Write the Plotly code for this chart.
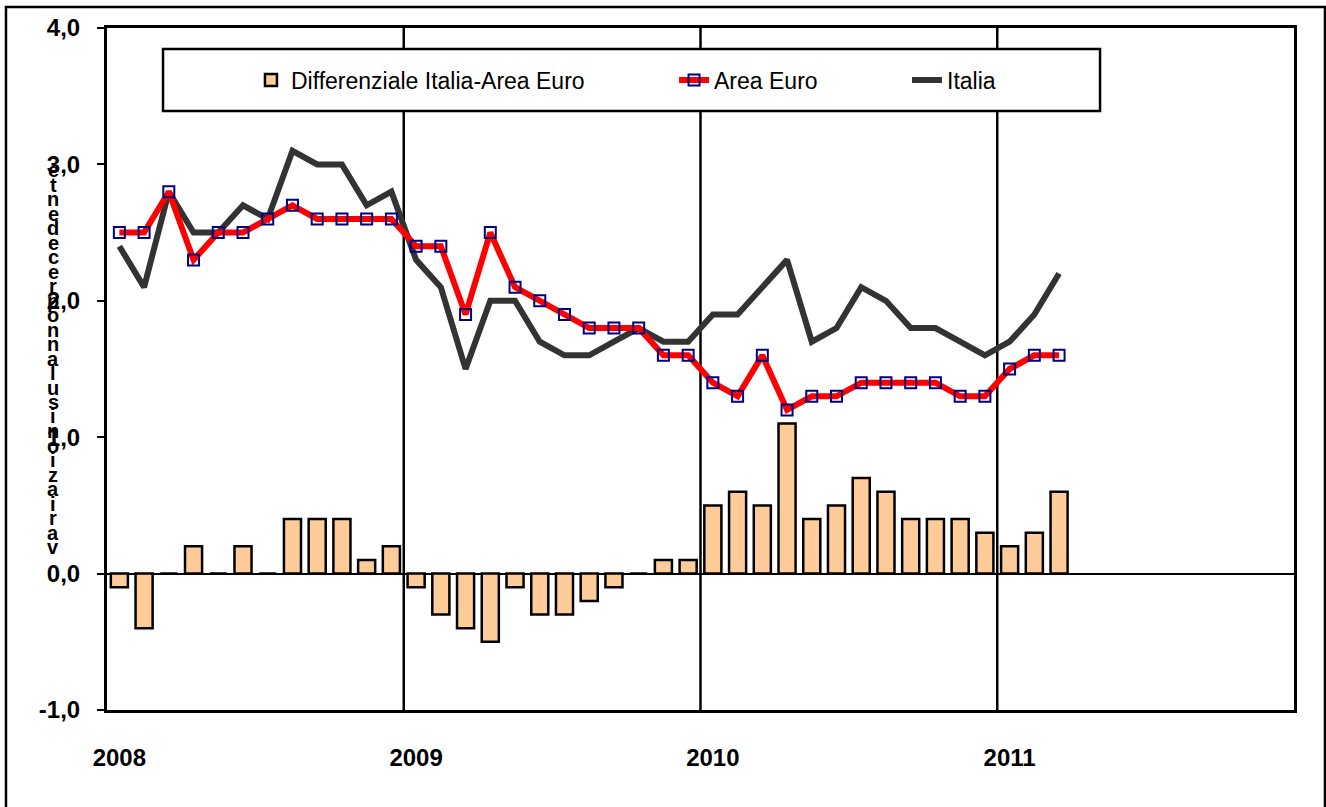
import plotly.graph_objects as go

# ---- data ----
years = ["2008", "2009", "2010", "2011"]
month_abbr = ["gen", "feb", "mar", "apr", "mag", "giu", "lug", "ago", "set", "ott", "nov", "dic"]
months = [f"{m} {y}" for y in years for m in month_abbr]  # 48 categories on the axis

area_euro = [2.5, 2.5, 2.8, 2.3, 2.5, 2.5, 2.6, 2.7, 2.6, 2.6, 2.6, 2.6,
             2.4, 2.4, 1.9, 2.5, 2.1, 2.0, 1.9, 1.8, 1.8, 1.8, 1.6, 1.6,
             1.4, 1.3, 1.6, 1.2, 1.3, 1.3, 1.4, 1.4, 1.4, 1.4, 1.3, 1.3,
             1.5, 1.6, 1.6]
italia = [2.4, 2.1, 2.8, 2.5, 2.5, 2.7, 2.6, 3.1, 3.0, 3.0, 2.7, 2.8,
          2.3, 2.1, 1.5, 2.0, 2.0, 1.7, 1.6, 1.6, 1.7, 1.8, 1.7, 1.7,
          1.9, 1.9, 2.1, 2.3, 1.7, 1.8, 2.1, 2.0, 1.8, 1.8, 1.7, 1.6,
          1.7, 1.9, 2.2]
differenziale = [-0.1, -0.4, 0.0, 0.2, 0.0, 0.2, 0.0, 0.4, 0.4, 0.4, 0.1, 0.2,
                 -0.1, -0.3, -0.4, -0.5, -0.1, -0.3, -0.3, -0.2, -0.1, 0.0, 0.1, 0.1,
                 0.5, 0.6, 0.5, 1.1, 0.4, 0.5, 0.7, 0.6, 0.4, 0.4, 0.4, 0.3,
                 0.2, 0.3, 0.6]
y_ticks = [-1.0, 0.0, 1.0, 2.0, 3.0, 4.0]
y_ticktext = [f"{v:.1f}".replace(".", ",") for v in y_ticks]
y_title = "variazioni sul anno precedente"

x_obs = months[:len(area_euro)]
FONT = "Liberation Sans, Arial, sans-serif"

fig = go.Figure()
fig.add_trace(go.Bar(
    x=x_obs, y=differenziale, name="Differenziale Italia-Area Euro",
    marker=dict(color="#FFCC99", line=dict(color="black", width=2.5)),
    legend="legend",
))
fig.add_trace(go.Scatter(
    x=x_obs, y=italia, name="Italia", mode="lines",
    line=dict(color="#333333", width=6), legend="legend3",
))
fig.add_trace(go.Scatter(
    x=x_obs, y=area_euro, name="Area Euro", mode="lines+markers",
    line=dict(color="#FF0000", width=6),
    marker=dict(symbol="square-open", size=11, color="#000080", line=dict(color="#000080", width=2)),
    legend="legend2",
))

# year separator lines
shapes = []
for i, y in enumerate(years[1:], start=1):
    shapes.append(dict(type="line", xref="x", yref="paper", x0=12 * i - 0.5, x1=12 * i - 0.5,
                       y0=0, y1=1, line=dict(color="black", width=2.5), layer="below"))
# legend box
shapes.append(dict(type="rect", xref="paper", yref="paper", x0=0.0472, x1=0.8366, y0=0.8783, y1=0.9692,
                   line=dict(color="black", width=2.5), fillcolor="white", layer="above"))
# outer chart frame
shapes.append(dict(type="rect", xref="paper", yref="paper", x0=-0.0851, x1=1.0261, y0=-0.16, y1=1.0308,
                   line=dict(color="black", width=2.5), fillcolor="rgba(0,0,0,0)", layer="above"))

# stacked-letter y-axis title (as in the original)
annotations = []
letters = [c for c in y_title[::-1] if c != " "]
top_px, step_px = 170.0, 14.5
for k, ch in enumerate(letters):
    ypx = top_px + k * step_px
    annotations.append(dict(text=ch, xref="paper", yref="paper", x=(53 - 107) / 1187,
                            y=(710 - ypx) / 682, showarrow=False, xanchor="center", yanchor="middle",
                            font=dict(family=FONT, size=20, color="black", weight="bold")))

legend_common = dict(orientation="h", yanchor="middle", y=0.9238, xanchor="left",
                     bgcolor="rgba(0,0,0,0)", borderwidth=0,
                     font=dict(family=FONT, size=23, color="black"))

fig.update_layout(
    width=1326, height=807,
    margin=dict(l=107, r=32, t=28, b=97),
    paper_bgcolor="white", plot_bgcolor="white",
    showlegend=True,
    legend=dict(x=0.1213, **legend_common),
    legend2=dict(x=0.4777, **legend_common),
    legend3=dict(x=0.6740, **legend_common),
    bargap=0.31,
    shapes=shapes,
    annotations=annotations,
    xaxis=dict(
        type="category", categoryorder="array", categoryarray=months,
        range=[-0.5, len(months) - 0.5],
        tickmode="array", tickvals=[f"gen {y}" for y in years], ticktext=years,
        ticks="outside", ticklen=24, tickcolor="white",
        showgrid=False, showline=True, linecolor="black", linewidth=3, mirror=True,
        tickfont=dict(family=FONT, size=24, color="black", weight="bold"),
    ),
    yaxis=dict(
        range=[-1, 4], tickmode="array", tickvals=y_ticks, ticktext=y_ticktext,
        ticks="outside", ticklen=7, tickwidth=2, tickcolor="black", ticklabelstandoff=12,
        showgrid=False, showline=True, linecolor="black", linewidth=3, mirror=True,
        zeroline=True, zerolinecolor="black", zerolinewidth=2,
        tickfont=dict(family=FONT, size=24, color="black", weight="bold"),
    ),
)

fig.write_html("out.html", config={"displayModeBar": False},
               post_script="document.body.style.margin='0';document.body.style.overflow='hidden';")
